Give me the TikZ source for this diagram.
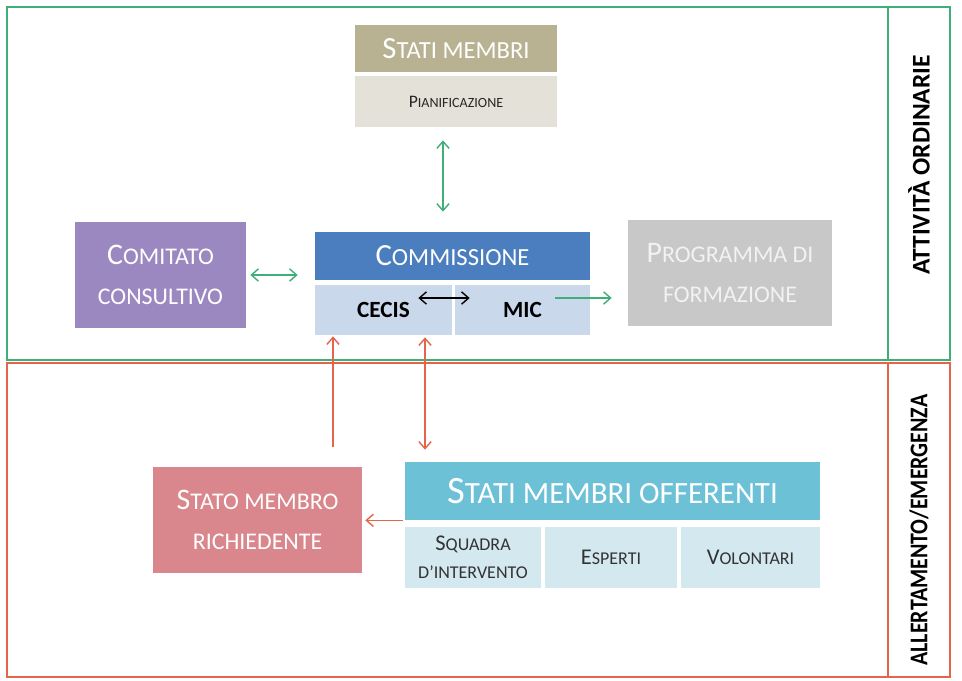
\documentclass[tikz,border=0pt]{standalone}
\usepackage{fontspec}
\setmainfont{Carlito}
\usetikzlibrary{arrows.meta}
\definecolor{frgreen}{HTML}{3FAE78}
\definecolor{frred}{HTML}{E4664A}
\definecolor{khaki}{HTML}{B8B292}
\definecolor{khakilt}{HTML}{E4E2D8}
\definecolor{lilac}{HTML}{9C88C1}
\definecolor{combl}{HTML}{4A7EBE}
\definecolor{combllt}{HTML}{C9D8EA}
\definecolor{progray}{HTML}{C8C8C8}
\definecolor{rosy}{HTML}{D9868C}
\definecolor{cyanhd}{HTML}{6DC1D7}
\definecolor{cyanlt}{HTML}{D4E8F0}
\newcommand\kap[2]{#1\scalebox{0.8}{#2}}
\newcommand\lw[1]{\scalebox{0.8}{#1}}
\tikzset{
  box/.style={inner sep=0pt,align=center,text=white},
  headbox/.style={box,font=\fontsize{17.5}{20}\selectfont},
  bigbox/.style={box,minimum width=#1,minimum height=2.12cm,font=\fontsize{17}{23}\selectfont},
  subcell/.style={box,minimum height=1.22cm,text=black!80,font=\fontsize{12.8}{16}\selectfont},
  tip/.tip={Straight Barb[length=4pt,width=7pt]},
  garrow/.style={draw=frgreen,line width=0.8pt,-tip},
  gboth/.style={draw=frgreen,line width=0.8pt,tip-tip},
  rarrow/.style={draw=frred,line width=0.8pt,-tip},
  rboth/.style={draw=frred,line width=0.8pt,tip-tip},
  gline/.style={draw=frgreen,line width=1.3pt},
  rline/.style={draw=frred,line width=1.3pt},
  sidelabel/.style={rotate=90,font=\bfseries\fontsize{14.5}{16}\selectfont}
}
\begin{document}
\begin{tikzpicture}[x=0.02cm,y=-0.02cm]
  \useasboundingbox (0,0) rectangle (962,680);

  % fasce
  \draw[gline] (7,7) rectangle (950,360);
  \draw[gline] (888,7) -- (888,360);
  \draw[rline] (7,363) rectangle (950,677);
  \draw[rline] (888,363) -- (888,677);
  \node[sidelabel] (ord) at (919,165) {ATTIVITÀ ORDINARIE};
  \node[sidelabel] (emer) at (919,530) {\scalebox{0.86}[1]{ALLERTAMENTO/EMERGENZA}};

  % attivita ordinarie
  \node[headbox,fill=khaki,minimum width=4.04cm,minimum height=0.94cm] (statim) at (456,48.5) {\kap{S}{TATI MEMBRI}};
  \node[box,fill=khakilt,text=black!85,minimum width=4.04cm,minimum height=1.02cm,font=\fontsize{10}{12}\selectfont] (pianif) at (456,101.5) {\kap{P}{IANIFICAZIONE}};
  \node[bigbox=3.42cm,fill=lilac] (comitato) at (160.5,275) {\kap{C}{OMITATO}\\\lw{CONSULTIVO}};
  \node[headbox,fill=combl,minimum width=5.5cm,minimum height=0.96cm] (commiss) at (452.5,256) {\kap{C}{OMMISSIONE}};
  \node[box,fill=combllt,text=black,minimum width=2.74cm,minimum height=1cm,font=\bfseries\fontsize{13.2}{15}\selectfont] (cecis) at (383.5,310) {CECIS};
  \node[box,fill=combllt,text=black,minimum width=2.7cm,minimum height=1cm,font=\bfseries\fontsize{13.2}{15}\selectfont] (mic) at (522.5,310) {MIC};
  \node[bigbox=4.08cm,fill=progray,text=white!95!black] (prog) at (730,273) {\kap{P}{ROGRAMMA DI}\\\lw{FORMAZIONE}};

  \coordinate (gx) at (443,0);
  \draw[gboth,shorten <=0.26cm,shorten >=0.4cm] (pianif.south -| gx) -- (commiss.north -| gx);
  \draw[gboth,shorten <=0.08cm,shorten >=0.34cm] (comitato.east) -- (comitato.east -| commiss.west);
  \draw[line width=0.8pt,tip-tip] ([shift={(-34,-12)}]cecis.east) -- ([shift={(15,-12)}]mic.west);
  \coordinate (m1) at ([shift={(-35,-12)}]mic.east);
  \draw[garrow,shorten >=0.32cm] (m1) -- (m1 -| prog.west);

  % allertamento / emergenza
  \node[bigbox=4.18cm,fill=rosy] (rich) at (257.5,520) {\kap{S}{TATO MEMBRO}\\\lw{RICHIEDENTE}};
  \node[box,fill=cyanhd,minimum width=8.3cm,minimum height=1.16cm,font=\fontsize{22}{24}\selectfont] (offer) at (612.5,491) {\kap{S}{TATI MEMBRI OFFERENTI}};
  \node[subcell,fill=cyanlt,minimum width=2.72cm] (squadra) at (473,557.5) {\kap{S}{QUADRA}\\\lw{D’INTERVENTO}};
  \node[subcell,fill=cyanlt,minimum width=2.64cm] (esperti) at (611,557.5) {\kap{E}{SPERTI}};
  \node[subcell,fill=cyanlt,minimum width=2.78cm] (volont) at (750.5,557.5) {\kap{V}{OLONTARI}};

  \coordinate (rx) at (333,0);
  \coordinate (dx) at (425,0);
  \draw[rarrow,shorten <=0.4cm,shorten >=0.02cm] (rich.north -| rx) -- (cecis.south -| rx);
  \draw[rboth,shorten <=0.04cm,shorten >=0.24cm] (cecis.south -| dx) -- (offer.north -| dx);
  \draw[rarrow,shorten <=0.04cm,shorten >=0.06cm] (offer.south west) -- (offer.south west -| rich.east);
\end{tikzpicture}
\end{document}
